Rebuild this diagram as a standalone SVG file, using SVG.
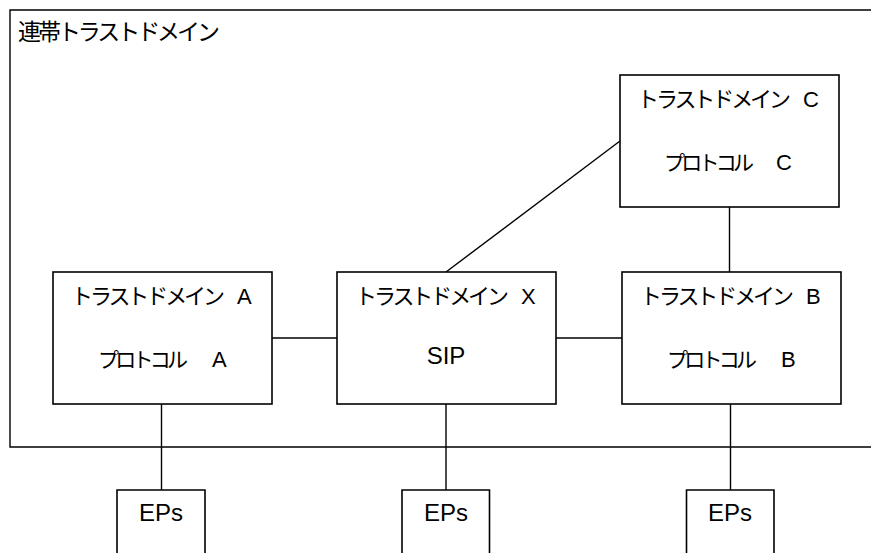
<svg xmlns="http://www.w3.org/2000/svg" width="871" height="553" viewBox="0 0 871 553">
<style>
.box{fill:#fff;stroke:#000;stroke-width:1.6}
.ln{stroke:#000;stroke-width:1.4;fill:none}
.jp{font-family:"Noto Sans CJK JP","Noto Sans",sans-serif;font-size:22px;fill:#000}
.jp2{font-family:"Noto Sans CJK JP","Noto Sans",sans-serif;font-size:21px;fill:#000}
.lat{font-family:"Liberation Sans",Arial,sans-serif;font-size:22px;fill:#000}
.big{font-family:"Liberation Sans",Arial,sans-serif;font-size:24px;fill:#000}
</style>
<rect width="871" height="553" fill="#fff"/>
<g id="frame">
<path class="ln" d="M871,10 H10 V447 H871" stroke-width="1.6"/>
<text x="18" y="40" class="jp" style="font-size:23px" textLength="202">連帯トラストドメイン</text>
</g>
<g id="connectors">
<line class="ln" x1="272" y1="338" x2="337" y2="338"/>
<line class="ln" x1="556" y1="338" x2="622" y2="338"/>
<line class="ln" x1="446" y1="272" x2="620" y2="141"/>
<line class="ln" x1="729.5" y1="207" x2="729.5" y2="272"/>
<line class="ln" x1="161.5" y1="404" x2="161.5" y2="490"/>
<line class="ln" x1="446" y1="404" x2="446" y2="490"/>
<line class="ln" x1="730.5" y1="404" x2="730.5" y2="490"/>
</g>
<g id="nodeA">
<rect class="box" x="53" y="272" width="219" height="132"/>
<text y="304"><tspan class="jp" x="71" textLength="154">トラストドメイン</tspan><tspan class="lat" x="237">A</tspan></text>
<text y="367"><tspan class="jp2" x="98" textLength="90">プロトコル</tspan><tspan class="lat" x="212">A</tspan></text>
</g>
<g id="nodeX">
<rect class="box" x="337" y="272" width="219" height="132"/>
<text y="304"><tspan class="jp" x="355" textLength="154">トラストドメイン</tspan><tspan class="lat" x="521">X</tspan></text>
<text x="446" y="364" class="big" text-anchor="middle">SIP</text>
</g>
<g id="nodeB">
<rect class="box" x="622" y="272" width="219" height="132"/>
<text y="304"><tspan class="jp" x="640" textLength="154">トラストドメイン</tspan><tspan class="lat" x="806">B</tspan></text>
<text y="367"><tspan class="jp2" x="667" textLength="90">プロトコル</tspan><tspan class="lat" x="781">B</tspan></text>
</g>
<g id="nodeC">
<rect class="box" x="620" y="75" width="219" height="132"/>
<text y="107"><tspan class="jp" x="637" textLength="154">トラストドメイン</tspan><tspan class="lat" x="803">C</tspan></text>
<text y="170"><tspan class="jp2" x="664" textLength="90">プロトコル</tspan><tspan class="lat" x="776">C</tspan></text>
</g>
<g id="epsA">
<path class="box" d="M117,560 V490 H205 V560"/>
<text x="161" y="521" class="big" text-anchor="middle">EPs</text>
</g>
<g id="epsX">
<path class="box" d="M402,560 V490 H489.5 V560"/>
<text x="446" y="521" class="big" text-anchor="middle">EPs</text>
</g>
<g id="epsB">
<path class="box" d="M686.5,560 V490 H774 V560"/>
<text x="730" y="521" class="big" text-anchor="middle">EPs</text>
</g>
</svg>
